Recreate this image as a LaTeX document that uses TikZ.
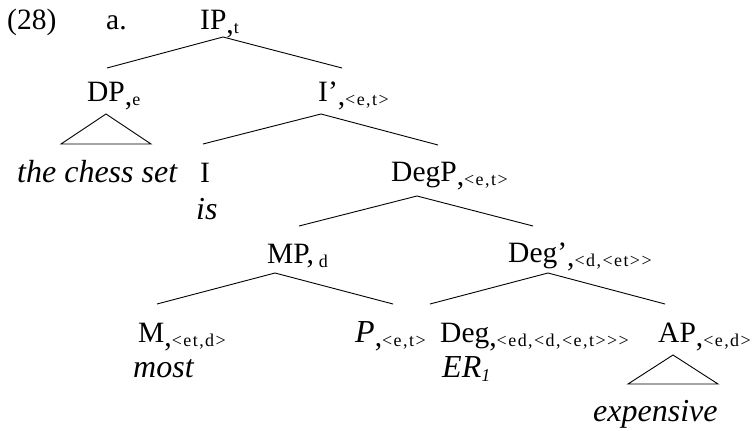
\documentclass[tikz,border=0pt]{standalone}
\usepackage{fontspec}
\setmainfont{Liberation Serif}
\newcommand{\subfont}{\fontsize{18}{18}\selectfont\addfontfeature{LetterSpace=8}}
\newcommand{\tsub}[1]{\raisebox{-4pt}{,\subfont #1}}
\newcommand{\psub}[1]{\raisebox{-4pt}{\subfont #1}}
\newcommand{\itx}{\fontsize{32}{32}\selectfont\itshape}
\begin{document}
\begin{tikzpicture}[x=1pt,y=-1pt,
  lbl/.style={anchor=base west, inner sep=0pt, font=\fontsize{29.5}{30}\selectfont},
  edge/.style={line width=0.9pt}]
\useasboundingbox (0,0) rectangle (755,431);
% labels
\node[lbl] (num) at (7,29) {(28)};
\node[lbl] (a) at (106,29) {a.};
\node[lbl] (IP) at (200,29) {IP\tsub{t}};
\node[lbl] (DP) at (87,101) {DP\tsub{e}};
\node[lbl] (Ibar) at (318,101) {I’\tsub{<e,t>}};
\node[lbl] (chess) at (17,182) {\itx the chess set};
\node[lbl] (I) at (200,182) {I};
\node[lbl] (is) at (196,219) {\itx is};
\node[lbl] (DegP) at (391,181) {DegP\tsub{<e,t>}};
\node[lbl] (MP) at (267,263) {MP,\,\psub{d}};
\node[lbl] (Degbar) at (508,262) {Deg’\tsub{<d,<et>{}>}};
\node[lbl] (M) at (138,342) {M\tsub{<et,d>}};
\node[lbl] (most) at (133,377) {\itx most};
\node[lbl] (P) at (355,342) {\itx P\upshape\fontsize{29.5}{30}\selectfont\tsub{<e,t>}};
\node[lbl] (Deg) at (440,342) {Deg\tsub{<ed,<d,<e,t>{}>{}>}};
\node[lbl] (ER) at (442,377) {\itx ER\raisebox{-4pt}{\fontsize{18}{18}\selectfont 1}};
\node[lbl] (AP) at (658,342) {AP\tsub{<e,d>}};
\node[lbl] (exp) at (593,421) {\itx expensive};
% branch points
\coordinate (ipt) at (223,37);
\coordinate (dpb) at (107,68);
\coordinate (ibb) at (342,68);
\coordinate (dpt) at (106,114);
\coordinate (dpl) at (61,144);
\coordinate (dpr) at (151,144);
\coordinate (ibt) at (321,114);
\coordinate (ib1) at (203,144);
\coordinate (ib2) at (438,145);
\coordinate (dgt) at (417,196);
\coordinate (dg1) at (299,226);
\coordinate (dg2) at (533,226);
\coordinate (mpt) at (275,273);
\coordinate (mp1) at (157,304);
\coordinate (mp2) at (393,304);
\coordinate (dbt) at (548,273);
\coordinate (db1) at (430,304);
\coordinate (db2) at (665,304);
\coordinate (apt) at (673,355);
\coordinate (apl) at (628,384);
\coordinate (apr) at (718,384);
% edges
\draw[edge] (dpb) -- (ipt) -- (ibb);
\draw[edge] (dpl) -- (dpt) -- (dpr) -- cycle;
\draw[edge] (ib1) -- (ibt) -- (ib2);
\draw[edge] (dg1) -- (dgt) -- (dg2);
\draw[edge] (mp1) -- (mpt) -- (mp2);
\draw[edge] (db1) -- (dbt) -- (db2);
\draw[edge] (apl) -- (apt) -- (apr) -- cycle;
\end{tikzpicture}
\end{document}
